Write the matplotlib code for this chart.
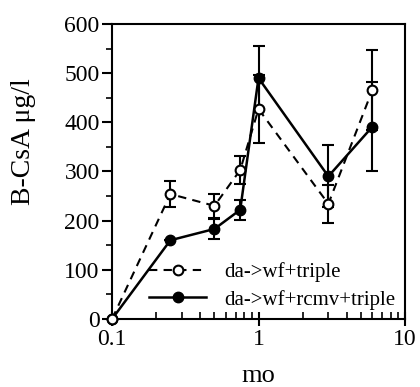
import numpy as np
import matplotlib
matplotlib.use('Agg')
import matplotlib.pyplot as plt
from matplotlib.lines import Line2D
from matplotlib.ticker import FixedLocator, NullFormatter, LogLocator

plt.rcParams['font.family'] = ['Liberation Serif', 'DejaVu Serif']

months = [0.1, 0.25, 0.5, 0.75, 1.0, 3.0, 6.0]
triple = [0, 254, 230, 303, 427, 234, 466]
triple_err = [0, 26, 25, 28, 69, 38, 81]
rcmv = [0, 160, 183, 222, 490, 290, 391]
rcmv_err = [0, 0, 20, 20, 65, 63, 91]

fig = plt.figure(figsize=(4.2, 3.87), dpi=100)
ax = fig.add_axes([0.267, 0.176, 0.697, 0.762])

l1 = ax.errorbar(months, rcmv, yerr=rcmv_err, color='black', ecolor='black',
                 linestyle='-', linewidth=1.8, marker='o', markersize=7.5,
                 markerfacecolor='black', markeredgecolor='black',
                 elinewidth=1.5, capsize=4, capthick=1.5, zorder=3)
l2 = ax.errorbar(months, triple, yerr=triple_err, color='black', ecolor='black',
                 linestyle=(0, (4, 3)), linewidth=1.5, marker='o', markersize=7,
                 markerfacecolor='white', markeredgecolor='black', markeredgewidth=1.5,
                 elinewidth=1.5, capsize=4, capthick=1.5, zorder=4)
for c in (l1, l2):
    c.lines[0].set_clip_on(False)

ax.set_xscale('log')
ax.set_xlim(0.1, 10)
ax.set_ylim(0, 600)
ax.set_xticks([0.1, 1, 10])
ax.set_xticklabels(['0.1', '1', '10'])
ax.xaxis.set_minor_locator(LogLocator(base=10, subs=np.arange(2, 10)))
ax.xaxis.set_minor_formatter(NullFormatter())
ax.set_yticks([0, 100, 200, 300, 400, 500, 600])
ax.yaxis.set_minor_locator(FixedLocator([50, 150, 250, 350, 450, 550]))

ax.tick_params(axis='x', which='major', direction='inout', length=10, width=1.5,
               labelsize=17, pad=2)
ax.tick_params(axis='x', which='minor', direction='in', length=5, width=1.2)
ax.tick_params(axis='y', which='major', direction='out', length=7, width=1.5,
               labelsize=17, pad=2)
ax.tick_params(axis='y', which='minor', direction='out', length=4, width=1.2)
for s in ax.spines.values():
    s.set_linewidth(1.5)

ax.set_xlabel('mo', fontsize=19, labelpad=11)
ax.set_ylabel('B-CsA μg/l', fontsize=20)
ax.yaxis.set_label_coords(-0.26, 0.6)

h_open = Line2D([], [], color='black', linestyle=(0, (4, 3)), linewidth=1.5,
                marker='o', markersize=7, markerfacecolor='white',
                markeredgecolor='black', markeredgewidth=1.5)
h_fill = Line2D([], [], color='black', linestyle='-', linewidth=1.8,
                marker='o', markersize=7.5, markerfacecolor='black')
ax.legend([h_open, h_fill], ['da->wf+triple', 'da->wf+rcmv+triple'],
          loc='lower right', frameon=False, fontsize=15, handlelength=2.7,
          handletextpad=0.9, labelspacing=0.35, borderaxespad=0.05)

fig.savefig('out.png', dpi=100)
